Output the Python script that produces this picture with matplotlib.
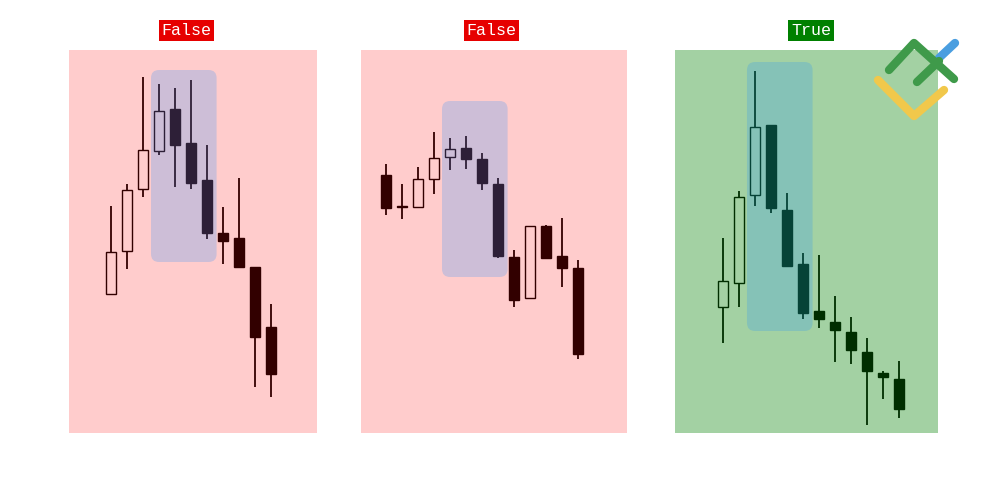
import matplotlib
matplotlib.use("Agg")
import matplotlib.pyplot as plt
from matplotlib.patches import Rectangle, FancyBboxPatch

# candle data per panel: open, high, low, close
open1 = [139, 182, 244, 282, 324, 290, 253, 200, 195, 166, 106]
high1 = [227, 249, 356, 349, 345, 353, 288, 226, 255, 166, 129]
low1 = [139, 164, 236, 278, 246, 244, 194, 169, 165, 46, 36]
close1 = [181, 243, 283, 322, 288, 250, 200, 192, 166, 96, 59]

open2 = [258, 227, 226, 254, 276, 285, 274, 249, 176, 135, 207, 177, 165]
high2 = [269, 249, 266, 301, 295, 297, 280, 255, 183, 207, 208, 215, 173]
low2 = [218, 214, 226, 239, 263, 264, 243, 175, 126, 135, 174, 146, 74]
close2 = [225, 226, 254, 275, 284, 274, 250, 177, 133, 207, 175, 165, 79]

open3 = [126, 150, 238, 308, 223, 169, 122, 111, 101, 81, 60, 54]
high3 = [195, 242, 362, 308, 240, 180, 178, 137, 116, 95, 62, 72]
low3 = [90, 126, 227, 220, 167, 114, 105, 71, 69, 8, 34, 15]
close3 = [152, 236, 306, 225, 167, 120, 114, 103, 83, 62, 56, 24]

# highlighted pattern: first candle, last candle, low, high
zone1 = (3, 6, 171, 363)
zone2 = (4, 7, 156, 332)
zone3 = (2, 5, 102, 371)

labels = ["False", "False", "True"]
label_colors = ["#e60000", "#e60000", "green"]
veil_colors = ["red", "red", "green"]

# layout
fig_w, fig_h = 1000, 500
rects = [(69, 248), (361, 266), (675, 263)]
xlims = [(-2.625, 12.875), (-1.5625, 15.06), (-3.0, 13.44)]
title_x = [0.474, 0.49, 0.517]
overlay_alpha = [0.2, 0.2, 0.36]
ylim = (0, 383)

panels = [
    (open1, high1, low1, close1, zone1),
    (open2, high2, low2, close2, zone2),
    (open3, high3, low3, close3, zone3),
]

fig = plt.figure(figsize=(10, 5), dpi=100)

for i, (o, h, l, c, zone) in enumerate(panels):
    left, width = rects[i]
    ax = fig.add_axes([left / fig_w, 67 / fig_h, width / fig_w, 383 / fig_h])
    x = list(range(len(o)))

    # wicks and bodies
    ax.vlines(x, l, h, color="black", lw=1.3, zorder=1)
    bottoms = [min(a, b) for a, b in zip(o, c)]
    heights = [max(abs(b - a), 1) for a, b in zip(o, c)]
    fills = ["white" if b > a else "black" for a, b in zip(o, c)]
    ax.bar(x, heights, width=0.65, bottom=bottoms, color=fills,
           edgecolor="black", linewidth=1.0, zorder=2)

    ax.set_xlim(*xlims[i])
    ax.set_ylim(*ylim)
    ax.axis("off")

    # coloured veil over the whole panel
    ax.add_patch(Rectangle((0, 0), 1, 1, transform=ax.transAxes,
                           color=veil_colors[i], alpha=overlay_alpha[i],
                           lw=0, zorder=3))

    # rounded highlight box around the pattern
    x_per_px = (xlims[i][1] - xlims[i][0]) / width
    y_per_px = (ylim[1] - ylim[0]) / 383
    start, end, lo, hi = zone
    box = FancyBboxPatch((start - 0.5, lo), end - start + 1.1, hi - lo,
                         boxstyle="round,pad=0,rounding_size=%f" % (8 * x_per_px),
                         mutation_aspect=y_per_px / x_per_px,
                         facecolor="dodgerblue", edgecolor="none",
                         alpha=0.22, zorder=4)
    ax.add_patch(box)

    ax.set_title(labels[i], x=title_x[i], pad=11, fontsize=12,
                 family="Liberation Mono", color="white",
                 bbox=dict(facecolor=label_colors[i], edgecolor="none", pad=2))

# logo in the top right corner (pixel coordinates)
logo = fig.add_axes([0, 0, 1, 1])
logo.set_xlim(0, fig_w)
logo.set_ylim(fig_h, 0)
logo.axis("off")
lw = 6
logo.plot([878, 914, 944], [80, 116, 90], color="#f1c84b", lw=lw,
          solid_capstyle="round", solid_joinstyle="round")
logo.plot([939, 955], [58, 43], color="#4a9ee0", lw=lw, solid_capstyle="round")
logo.plot([889, 914, 954], [70, 43, 79], color="#3f9a4a", lw=lw,
          solid_capstyle="round", solid_joinstyle="round")
logo.plot([917, 939], [82, 61], color="#3f9a4a", lw=lw, solid_capstyle="round")

fig.savefig("out.png", dpi=100)
